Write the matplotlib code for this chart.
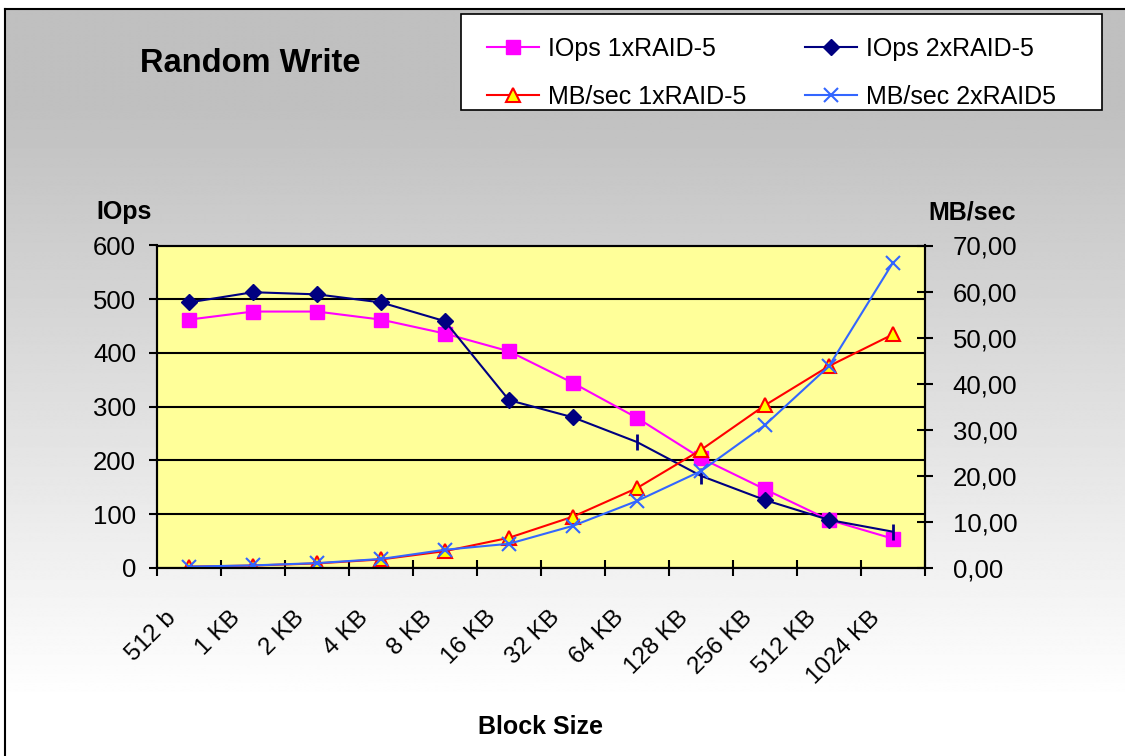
#### Random Write benchmark: IOps and MB/sec for 1x / 2x RAID-5

import numpy as np
import matplotlib
matplotlib.use('Agg')
import matplotlib.pyplot as plt
import matplotlib.transforms as mtransforms
from matplotlib.patches import Rectangle
from matplotlib.ticker import FuncFormatter, MultipleLocator

plt.rcParams["font.family"] = ["Liberation Sans", "DejaVu Sans"]

# Data
block_sizes = ["512 b", "1 KB", "2 KB", "4 KB", "8 KB", "16 KB", "32 KB",
               "64 KB", "128 KB", "256 KB", "512 KB", "1024 KB"]
iops_1x = [462, 477, 477, 462, 436, 403, 344, 279, 204, 146, 89, 54]
iops_2x = [494, 513, 509, 494, 459, 312, 280, 234, 171, 126, 89, 67]
mbs_1x = [0.23, 0.47, 0.93, 1.8, 3.6, 6.5, 11.1, 17.3, 25.6, 35.3, 43.8, 50.7]
mbs_2x = [0.24, 0.5, 1.0, 1.9, 3.9, 5.2, 9.1, 14.5, 21.0, 31.0, 43.8, 66.3]

# navy series: diamonds on most points, short bars on a few (as in source)
diamond_idx = [0, 1, 2, 3, 4, 5, 6, 9, 10]
bar_idx = [7, 8, 11]

W, H = 1125, 756
fig = plt.figure(figsize=(W / 100, H / 100), dpi=100)

# - Background: grey to white gradient with a black frame
bg = fig.add_axes([0, 0, 1, 1], zorder=-10)
bg.set_xlim(0, W)
bg.set_ylim(H, 0)
bg.axis('off')
rows = np.arange(H)
shade = np.clip(192 + 63 * (rows - 100) / 600, 192, 255) / 255
grad = np.repeat(shade[:, None], 2, axis=1)
bg.imshow(grad, cmap='gray', vmin=0, vmax=1, aspect='auto',
          extent=(5, W, H, 9), interpolation='bilinear')
bg.plot([5, 5], [9, H], color='black', lw=1.5)
bg.plot([5, W], [9, 9], color='black', lw=1.5)
# -- legend frame
bg.add_patch(Rectangle((461, 14), 641, 96, facecolor='white',
                       edgecolor='black', lw=1.2, zorder=5))

# - Plot area
ax = fig.add_axes([157 / W, 1 - 567.7 / H, 768 / W, 322.2 / H])
ax.set_facecolor('#FFFF99')
x = np.arange(len(block_sizes))

l1, = ax.plot(x, iops_1x, color='#FF00FF', lw=1.5, marker='s', ms=10.5,
              mec='#FF00FF', zorder=3)
l2, = ax.plot(x, iops_2x, color='#000080', lw=1.5, marker='D', ms=8.5,
              markevery=diamond_idx, zorder=4)
ax.plot(x[bar_idx], np.array(iops_2x)[bar_idx], ls='none', marker='|',
        ms=12, mew=2, color='#000080', zorder=4)

ax.set_xlim(-0.5, len(block_sizes) - 0.5)
ax.set_ylim(0, 600)
ax.yaxis.set_major_locator(MultipleLocator(100))
ax.grid(axis='y', color='black', lw=1.5)
ax.set_axisbelow(True)

# -- x ticks at category borders, labels rotated under each category
ax.set_xticks(x)
ax.set_xticklabels([])
ax.set_xticks(np.arange(-0.5, len(block_sizes), 1), minor=True)
ax.tick_params(axis='x', which='major', length=0)
ax.tick_params(axis='x', which='minor', direction='inout', length=12, width=1.5)
offset = mtransforms.ScaledTranslation(-24 / 100, -39 / 100, fig.dpi_scale_trans)
for i, lab in enumerate(block_sizes):
    ax.text(x[i], 0, lab, transform=ax.get_xaxis_transform() + offset,
            rotation=45, ha='right', va='top', rotation_mode='anchor',
            fontsize=17.5)

ax.tick_params(axis='y', direction='out', length=6, width=1.5, pad=9, labelsize=18.5)
for s in ax.spines.values():
    s.set_linewidth(1.5)

# - Secondary axis for MB/sec
ax2 = ax.twinx()
ax2.patch.set_visible(False)
l3, = ax2.plot(x, mbs_1x, color='#FF0000', lw=1.5, marker='^', ms=10,
               mfc='#FFFF00', mec='#FF0000', mew=1.5)
l4, = ax2.plot(x, mbs_2x, color='#3366FF', lw=1.5, marker='x', ms=10, mew=1.5)
ax2.set_ylim(0, 70)
ax2.yaxis.set_major_locator(MultipleLocator(10))
ax2.yaxis.set_major_formatter(FuncFormatter(lambda v, p: f"{v:.2f}".replace('.', ',')))
ax2.tick_params(axis='y', direction='inout', length=12, width=1.5, pad=14, labelsize=18.5)
for s in ax2.spines.values():
    s.set_linewidth(1.5)

# - Texts
fig.text(140 / W, 1 - 63 / H, 'Random Write', fontsize=23.5, weight='bold',
         ha='left', va='center')
fig.text(124 / W, 1 - 212 / H, 'IOps', fontsize=18, weight='bold',
         ha='center', va='center')
fig.text(972 / W, 1 - 212 / H, 'MB/sec', fontsize=18, weight='bold',
         ha='center', va='center')
fig.text(541 / W, 1 - 727 / H, 'Block Size', fontsize=18, weight='bold',
         ha='center', va='center')

# - Legend (row-wise order: IOps on top row, MB/sec below)
leg = fig.legend([l1, l3, l2, l4],
                 ['IOps 1xRAID-5', 'MB/sec 1xRAID-5', 'IOps 2xRAID-5', 'MB/sec 2xRAID5'],
                 ncol=2, loc='upper left', bbox_to_anchor=(487 / W, 1 - 37 / H),
                 fontsize=18, handlelength=2.08, handletextpad=0.36,
                 labelspacing=0.95, columnspacing=2.36, borderpad=0,
                 borderaxespad=0, frameon=False)

fig.savefig('out.png', dpi=100)
